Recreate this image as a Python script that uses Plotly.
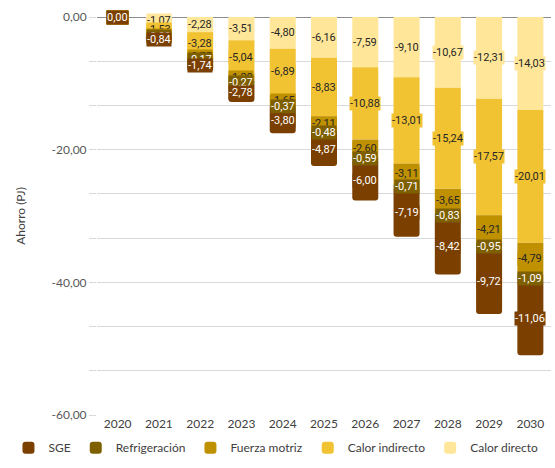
import numpy as np
import plotly.graph_objects as go

years = ["2020", "2021", "2022", "2023", "2024", "2025", "2026", "2027", "2028", "2029", "2030"]

calor_directo = [0.00, -1.07, -2.28, -3.51, -4.80, -6.16, -7.59, -9.10, -10.67, -12.31, -14.03]
calor_indirecto = [0.00, -1.53, -3.28, -5.04, -6.89, -8.83, -10.88, -13.01, -15.24, -17.57, -20.01]
fuerza_motriz = [0.00, -0.36, -0.75, -1.20, -1.65, -2.11, -2.60, -3.11, -3.65, -4.21, -4.79]
refrigeracion = [0.00, -0.08, -0.17, -0.27, -0.37, -0.48, -0.59, -0.71, -0.83, -0.95, -1.09]
sge = [0.00, -0.84, -1.74, -2.78, -3.80, -4.87, -6.00, -7.19, -8.42, -9.72, -11.06]

y_tick_vals = [0, -20, -40, -60]
y_tick_text = ["0,00", "-20,00", "-40,00", "-60,00"]

# stacking order from zero downward
series = [
    ("Calor directo", calor_directo, "#FFE699", "#262626"),
    ("Calor indirecto", calor_indirecto, "#F1C232", "#262626"),
    ("Fuerza motriz", fuerza_motriz, "#BF9000", "#262626"),
    ("Refrigeración", refrigeracion, "#7F6000", "#FFFFFF"),
    ("SGE", sge, "#7B3F00", "#FFFFFF"),
]

fig = go.Figure()
annotations = []
base = np.zeros(len(years))
for name, vals, color, tcolor in series:
    v = np.array(vals)
    fig.add_trace(go.Bar(
        x=years, y=vals, name=name, marker=dict(color=color, line=dict(width=0)),
        hoverinfo="skip",
    ))
    mids = base + v / 2.0
    for i, (m, val) in enumerate(zip(mids, vals)):
        annotations.append(dict(
            x=i, y=m, xref="x", yref="y",
            text=f"{val:.2f}".replace(".", ","),
            showarrow=False, bgcolor=color, borderpad=0,
            font=dict(family="Roboto", size=11, color=tcolor),
        ))
    base = base + v

fig.update_layout(
    width=555, height=468,
    barmode="relative",
    bargap=0.37,
    barcornerradius=3,
    plot_bgcolor="white", paper_bgcolor="white",
    margin=dict(l=97, r=4, t=17, b=53),
    font=dict(family="Lato", size=12, color="#595959"),
    annotations=annotations,
    showlegend=True,
    legend=dict(
        orientation="h", traceorder="reversed",
        xref="paper", yref="paper",
        x=-0.195, xanchor="left", y=-0.082, yanchor="middle",
        font=dict(family="Lato", size=12, color="#404040"),
        itemwidth=30, tracegroupgap=0,
    ),
)
fig.update_yaxes(
    range=[-60, 0],
    tickvals=y_tick_vals, ticktext=y_tick_text,
    showgrid=True, gridcolor="#D9D9D9", gridwidth=1,
    minor=dict(dtick=20 / 3, tick0=0, showgrid=True, gridcolor="#D9D9D9", gridwidth=1,
               ticks="outside", ticklen=7, tickcolor="#D9D9D9"),
    zeroline=True, zerolinecolor="#8C8C8C", zerolinewidth=1,
    ticks="outside", ticklen=7, tickcolor="#D9D9D9",
    tickfont=dict(family="Lato", size=12, color="#595959"),
    title=dict(text="Ahorro (PJ)", font=dict(family="Lato", size=12, color="#404040"), standoff=23),
    showline=False,
)
fig.update_xaxes(
    type="category",
    range=[-0.5, len(years) - 0.5],
    tickfont=dict(family="Lato", size=12, color="#404040"),
    showgrid=False, showline=False, ticks="",
)

fig.write_html(
    "out.html",
    config={"displayModeBar": False},
    post_script="document.body.style.margin='0';document.body.style.overflow='hidden';",
)
